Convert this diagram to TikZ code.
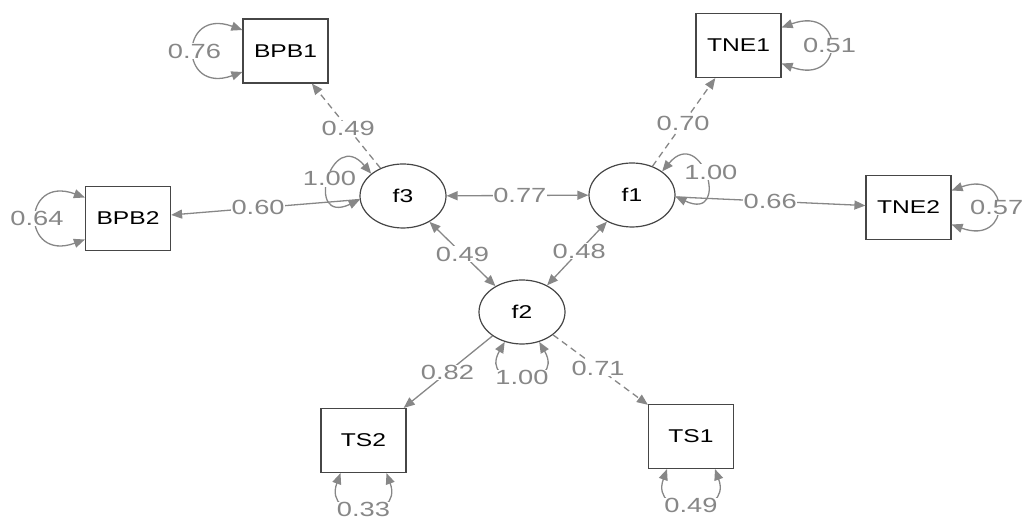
\documentclass[tikz,border=0pt]{standalone}
\usepackage{fontspec}
\setmainfont{Liberation Sans}
\usepackage{graphicx}
\usetikzlibrary{arrows.meta,calc,shapes.geometric}
\definecolor{edgegray}{RGB}{135,135,135}
\definecolor{labgray}{RGB}{135,135,135}
\definecolor{bordergray}{RGB}{70,70,70}
\newcommand{\hs}[1]{\scalebox{1.33}[1]{#1}}
\begin{document}
\begin{tikzpicture}[x=1pt,y=1pt,
  manifest/.style={draw=bordergray,line width=1.2pt,rectangle,minimum width=85pt,minimum height=64pt,inner sep=0pt,text=black,font=\fontsize{18.5}{18.5}\selectfont},
  latent/.style={draw=bordergray,line width=1.2pt,ellipse,minimum width=86pt,minimum height=64pt,inner sep=0pt,text=black,font=\fontsize{18.5}{18.5}\selectfont},
  tip/.tip={Triangle[length=11pt,width=9pt]},
  conn/.style={draw=edgegray,line width=1.3pt,-tip},
  dashconn/.style={conn,dash pattern=on 6.5pt off 4.5pt},
  cov/.style={draw=edgegray,line width=1.3pt,tip-tip},
  lbl/.style={text=labgray,fill=white,inner sep=0.5pt,font=\fontsize{20.5}{20.5}\selectfont}
]
\useasboundingbox (0,0) rectangle (1025,521);

% latent variables
\node[latent] (f3) at (403,325) {\hs{f3}};
\node[latent] (f1) at (632,326) {\hs{f1}};
\node[latent] (f2) at (522,209) {\hs{f2}};

% manifest variables
\node[manifest] (BPB1) at (285.5,470) {\hs{BPB1}};
\node[manifest] (TNE1) at (738.5,475.5) {\hs{TNE1}};
\node[manifest] (BPB2) at (128,302.5) {\hs{BPB2}};
\node[manifest] (TNE2) at (908.5,313.5) {\hs{TNE2}};
\node[manifest] (TS2) at (363.5,80.5) {\hs{TS2}};
\node[manifest] (TS1) at (691,84.5) {\hs{TS1}};

% loadings
\draw[dashconn] (f3) -- (BPB1);
\draw[conn] (f3) -- (BPB2);
\draw[dashconn] (f1) -- (TNE1);
\draw[conn] (f1) -- (TNE2);
\draw[conn] (f2) -- (TS2);
\draw[dashconn] (f2) -- (TS1);

% covariances
\draw[cov] (f3) -- (f1);
\draw[cov] (f3) -- (f2);
\draw[cov] (f1) -- (f2);

% labels on straight connectors
\node[lbl] (lBPB1) at ($(f3)!0.466!(BPB1)$) {\hs{0.49}};
\node[lbl] (lBPB2) at ($(f3)!0.527!(BPB2)$) {\hs{0.60}};
\node[lbl] (lTNE1) at ($(f1)!0.48!(TNE1)$) {\hs{0.70}};
\node[lbl] (lTNE2) at ($(f1)!0.5!(TNE2)$) {\hs{0.66}};
\node[lbl] (lTS2) at ($(f2)!0.47!(TS2)$) {\hs{0.82}};
\node[lbl] (lTS1) at ($(f2)!0.45!(TS1)$) {\hs{0.71}};
\node[lbl] (l31) at ($(f3)!0.51!(f1)$) {\hs{0.77}};
\node[lbl] (l32) at ($(f3)!0.5!(f2)$) {\hs{0.49}};
\node[lbl] (l12) at ($(f1)!0.48!(f2)$) {\hs{0.48}};

% variance loops
\draw[cov] ([yshift=21pt]BPB1.west) to[out=160,in=200,distance=68pt] node[lbl] (vBPB1) {\hs{0.76}} ([yshift=-21pt]BPB1.west);
\draw[cov] ([yshift=21pt]BPB2.west) to[out=160,in=200,distance=68pt] node[lbl] (vBPB2) {\hs{0.64}} ([yshift=-21pt]BPB2.west);
\draw[cov] ([yshift=18pt]TNE1.east) to[out=20,in=-20,distance=68pt] node[lbl] (vTNE1) {\hs{0.51}} ([yshift=-18pt]TNE1.east);
\draw[cov] ([yshift=17pt]TNE2.east) to[out=20,in=-20,distance=64pt] node[lbl] (vTNE2) {\hs{0.57}} ([yshift=-17pt]TNE2.east);
\draw[cov] ([xshift=-23pt]TS2.south) to[out=250,in=290,distance=52pt] node[lbl] (vTS2) {\hs{0.33}} ([xshift=23pt]TS2.south);
\draw[cov] ([xshift=-24pt]TS1.south) to[out=250,in=290,distance=52pt] node[lbl] (vTS1) {\hs{0.49}} ([xshift=24pt]TS1.south);
\draw[cov] (f3.145) to[out=130,in=205,distance=62pt] node[lbl] (vf3) {\hs{1.00}} (f3.185);
\draw[cov] (f1.38) to[out=50,in=-25,distance=62pt] node[lbl,xshift=6pt,yshift=4pt] (vf1) {\hs{1.00}} (f1.358);
\draw[cov] (f2.240) to[out=240,in=300,distance=55pt] node[lbl] (vf2) {\hs{1.00}} (f2.300);
\end{tikzpicture}
\end{document}
